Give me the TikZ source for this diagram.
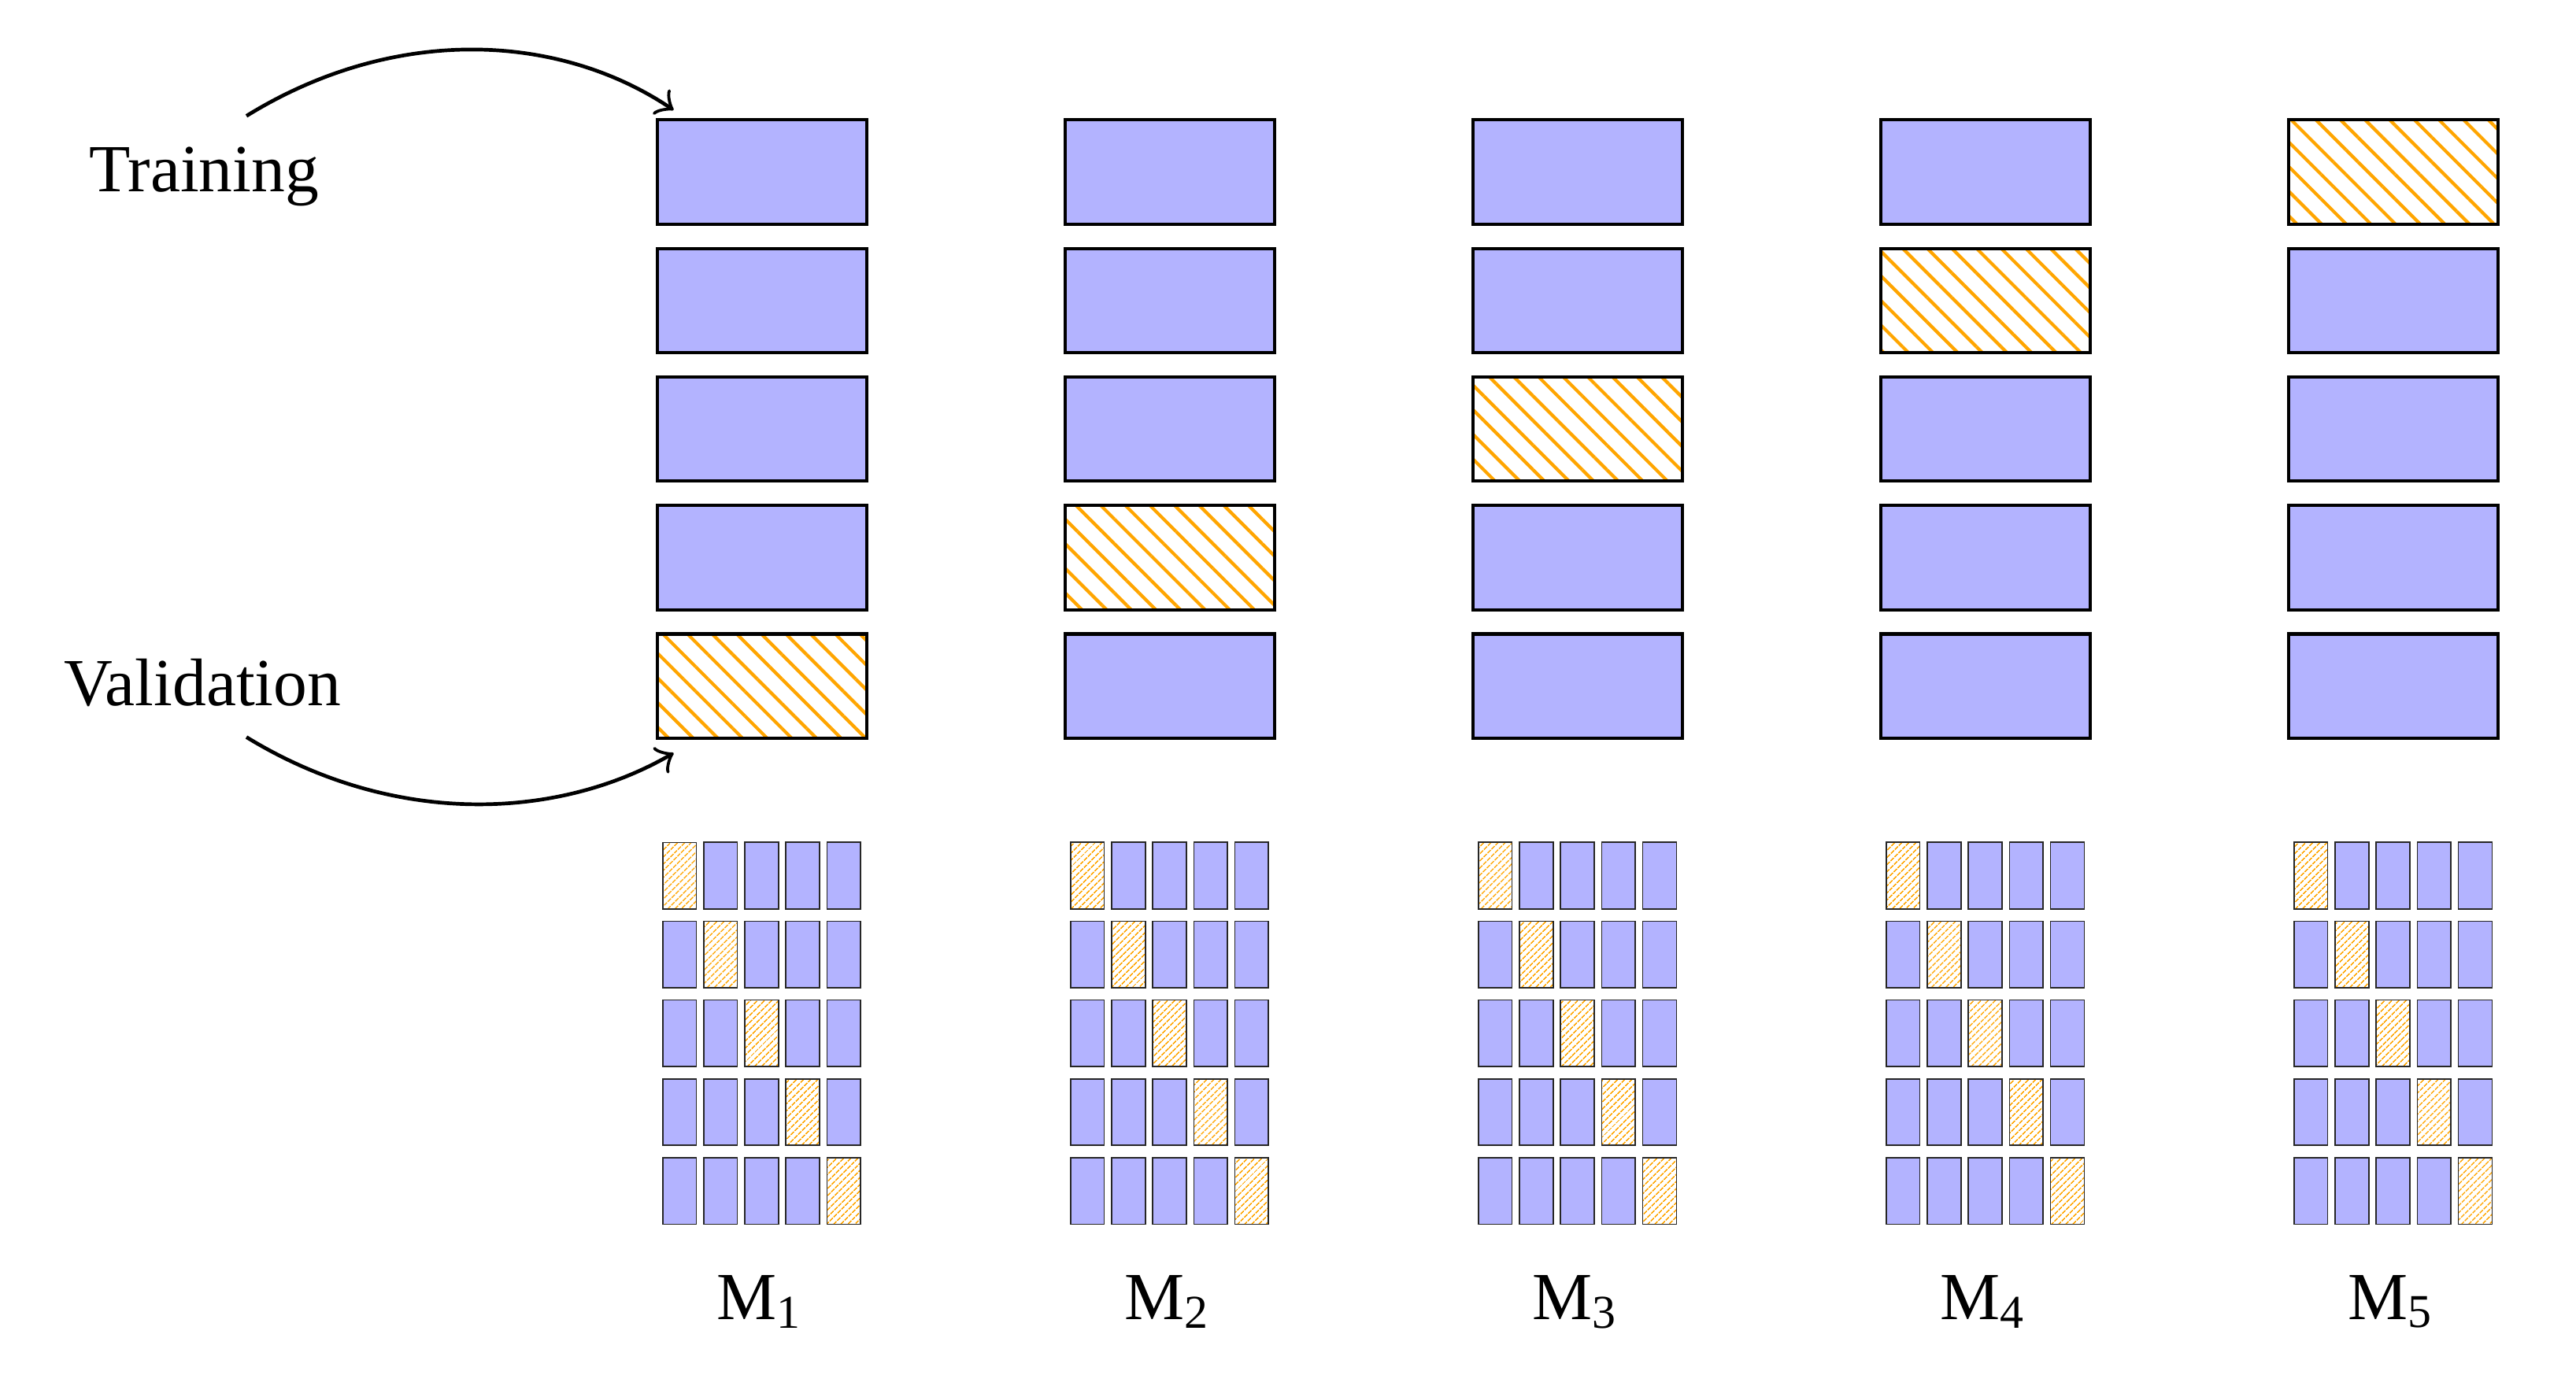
\documentclass[tikz,border=0pt]{standalone}
\usepackage{fontspec}
\setmainfont{Liberation Serif}
\usetikzlibrary{patterns.meta,calc}
\definecolor{trainfill}{RGB}{179,179,255}
\definecolor{hatch}{RGB}{255,165,0}
\tikzset{
  bigbox/.style={draw=black, line width=0.4pt, rectangle, inner sep=0pt,
    minimum width=25.5pt, minimum height=12.7pt, anchor=north west},
  bigtrain/.style={bigbox, fill=trainfill},
  bigval/.style={bigbox, pattern={Lines[angle=-45,distance=2.12pt,line width=0.4pt]}, pattern color=hatch},
  smallbox/.style={draw=black!85, line width=0.15pt, rectangle, inner sep=0pt,
    minimum width=4.1pt, minimum height=8.1pt, anchor=north west},
  smalltrain/.style={smallbox, fill=trainfill},
  smallval/.style={smallbox, pattern={Lines[angle=45,distance=0.68pt,line width=0.18pt]}, pattern color=hatch},
  lbl/.style={font=\fontsize{8.2}{10}\selectfont, inner sep=0pt, anchor=base},
  curvearrow/.style={->, line width=0.45pt},
}
\begin{document}
\begin{tikzpicture}[x=0.2pt,y=-0.2pt]
\useasboundingbox (0,0) rectangle (1568,837);
% big columns
\foreach \i in {0,...,4}{
  \foreach \j in {0,...,4}{
    \pgfmathsetmacro{\bx}{399+248.25*\i}
    \pgfmathsetmacro{\by}{72+78.25*\j}
    \pgfmathtruncatemacro{\v}{4-\i}
    \ifnum\j=\v
      \node[bigval] (B-\i-\j) at (\bx,\by) {};
    \else
      \node[bigtrain] (B-\i-\j) at (\bx,\by) {};
    \fi
  }
}
% small grids
\foreach \i in {0,...,4}{
  \foreach \r in {0,...,4}{
    \foreach \c in {0,...,4}{
      \pgfmathsetmacro{\sx}{403+248.25*\i+25*\c}
      \pgfmathsetmacro{\sy}{512.5+48*\r}
      \ifnum\r=\c
        \node[smallval] (S-\i-\r-\c) at (\sx,\sy) {};
      \else
        \node[smalltrain] (S-\i-\r-\c) at (\sx,\sy) {};
      \fi
    }
  }
}
% model labels
\foreach \i in {0,...,4}{
  \pgfmathsetmacro{\mx}{462.75+248.25*\i}
  \pgfmathtruncatemacro{\k}{\i+1}
  \node[lbl] (M\i) at (\mx,803.4) {M\textsubscript{\k}};
}
% side labels
\node[lbl] (train) at (124.2,116.6) {Training};
\node[lbl] (valid) at (123.3,429.6) {Validation};
\coordinate (tstart) at (150,70.6);
\coordinate (vstart) at (150,448.8);
\draw[curvearrow] (tstart) .. controls (240,15) and (340,20) .. ($(B-0-0.north west)+(11,-5)$);
\draw[curvearrow] (vstart) .. controls (240,504) and (340,499) .. ($(B-0-4.south west)+(11,8)$);
\end{tikzpicture}
\end{document}
